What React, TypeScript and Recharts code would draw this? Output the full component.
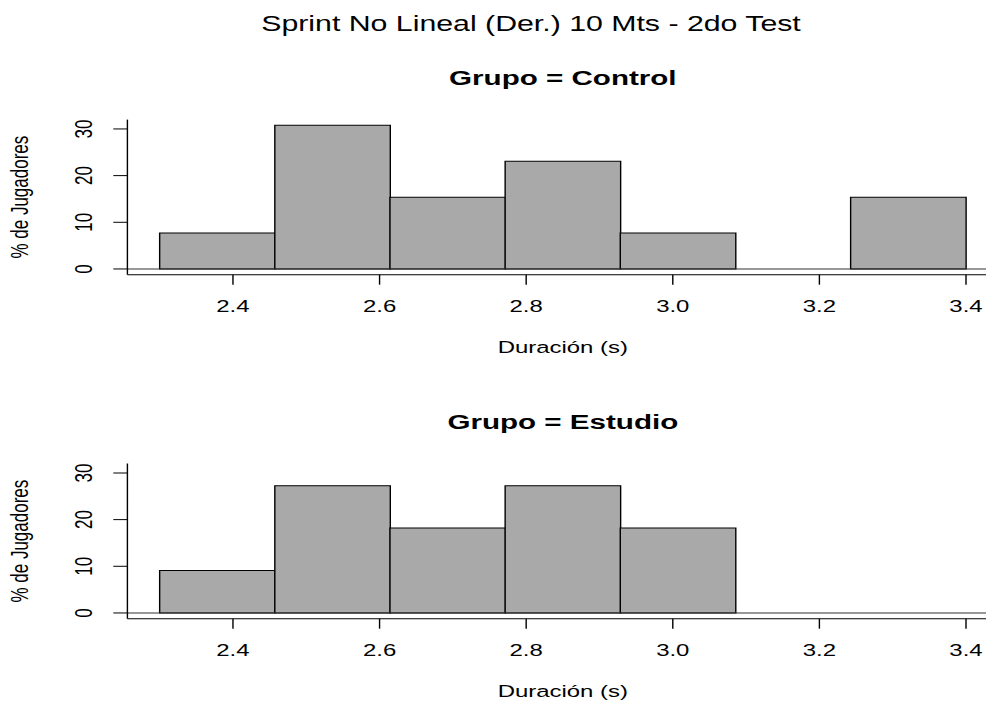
import { ComposedChart, Bar, XAxis, YAxis, ReferenceLine } from 'recharts';

// bin edges of the histogram (seconds)
const breaks = [2.3, 2.4571, 2.6143, 2.7714, 2.9286, 3.0857, 3.2429, 3.4];
// % of players per bin
const controlPct = [7.69, 30.77, 15.38, 23.08, 7.69, 0, 15.38];
const estudioPct = [9.09, 27.27, 18.18, 27.27, 18.18, 0, 0];

const xTicks = [2.4, 2.6, 2.8, 3.0, 3.2, 3.4];
const yTicks = [0, 10, 20, 30];
const yMaxData = 30.77;

// R style axis limits (4% padding)
const xPad = (breaks[breaks.length - 1] - breaks[0]) * 0.04;
const xLim = [breaks[0] - xPad, breaks[breaks.length - 1] + xPad];
const binW = breaks[1] - breaks[0];
const binLim = [(xLim[0] - breaks[0]) / binW, (xLim[1] - breaks[0]) / binW];
const yLim = [-yMaxData * 0.04, yMaxData * 1.04];

// the original picture is stretched horizontally
const BASE_W = 700;
const STRETCH = 986 / BASE_W;
const CHART_W = 720;
const CHART_H = 358;
const PLOT_LEFT = 90.45;
const PLOT_RIGHT = 708.7;
const PLOT_TOP = 119.6;
const PLOT_BOTTOM = 274.7;
const X_AXIS_H = 40;
const PANEL_SHIFT = 344;

const font = '"Liberation Sans", Arial, sans-serif';

const toRows = (pcts: number[]) =>
    pcts.map((pct, i) => ({ bin: i + 0.5, mid: (breaks[i] + breaks[i + 1]) / 2, pct }));

const YTick = (props: any) => {
    const { x, y, payload } = props;
    return (
        <text
            x={x}
            y={y}
            transform={`rotate(-90 ${x} ${y})`}
            textAnchor="middle"
            fontSize={17}
            fill="#000"
        >
            {payload.value}
        </text>
    );
};

function Panel({ pcts, top }: { pcts: number[]; top: number }) {
    return (
        <div style={{ position: 'absolute', left: 0, top }}>
            <ComposedChart
                width={CHART_W}
                height={CHART_H}
                data={toRows(pcts)}
                barCategoryGap={0}
                barGap={0}
                margin={{
                    top: PLOT_TOP,
                    right: CHART_W - PLOT_RIGHT,
                    bottom: CHART_H - PLOT_BOTTOM - X_AXIS_H,
                    left: 0,
                }}
            >
                <XAxis
                    xAxisId="bin"
                    dataKey="bin"
                    type="number"
                    domain={binLim}
                    allowDataOverflow
                    tickCount={8}
                    height={0}
                    hide
                />
                <XAxis
                    xAxisId="val"
                    dataKey="mid"
                    type="number"
                    domain={xLim}
                    allowDataOverflow
                    ticks={xTicks}
                    interval={0}
                    tickFormatter={(v: number) => v.toFixed(1)}
                    height={X_AXIS_H}
                    tickSize={10}
                    tickMargin={15}
                    stroke="#000"
                    tick={{ fill: '#000', fontSize: 17 }}
                />
                <XAxis
                    xAxisId="top"
                    dataKey="mid"
                    orientation="top"
                    type="number"
                    domain={xLim}
                    allowDataOverflow
                    height={0}
                    tick={false}
                    tickLine={false}
                    stroke="#000"
                />
                <YAxis
                    type="number"
                    domain={yLim}
                    allowDataOverflow
                    ticks={yTicks}
                    interval={0}
                    width={PLOT_LEFT}
                    tickSize={10}
                    tickMargin={15}
                    stroke="#000"
                    tick={<YTick />}
                />
                <ReferenceLine xAxisId="val" y={0} stroke="#333" strokeWidth={1} />
                <Bar
                    xAxisId="bin"
                    dataKey="pct"
                    fill="#a9a9a9"
                    stroke="#000"
                    strokeWidth={1}
                    isAnimationActive={false}
                />
            </ComposedChart>
        </div>
    );
}

export default function App() {
    const midX = (PLOT_LEFT + PLOT_RIGHT) / 2;
    const midY = (PLOT_TOP + PLOT_BOTTOM) / 2;
    return (
        <div
            style={{
                position: 'absolute',
                left: 0,
                top: 0,
                width: BASE_W,
                height: 702,
                overflow: 'hidden',
                background: '#fff',
                fontFamily: font,
                transform: `scaleX(${STRETCH})`,
                transformOrigin: '0 0',
            }}
        >
            <Panel pcts={controlPct} top={0} />
            <Panel pcts={estudioPct} top={PANEL_SHIFT} />
            <svg
                width={BASE_W}
                height={702}
                style={{ position: 'absolute', left: 0, top: 0, pointerEvents: 'none' }}
                fontFamily={font}
            >
                <text x={377} y={31} textAnchor="middle" fontSize={21.5} fill="#000">
                    Sprint No Lineal (Der.) 10 Mts - 2do Test
                </text>
                {['Control', 'Estudio'].map((g, i) => {
                    const dy = i * PANEL_SHIFT;
                    return (
                        <g key={g}>
                            <text x={midX} y={85 + dy} textAnchor="middle" fontSize={21} fontWeight="bold" fill="#000">
                                Grupo = {g}
                            </text>
                            <text x={midX} y={353 + dy} textAnchor="middle" fontSize={17} fill="#000">
                                Duración (s)
                            </text>
                            <text
                                x={20.2}
                                y={midY + dy}
                                transform={`rotate(-90 20.2 ${midY + dy})`}
                                textAnchor="middle"
                                fontSize={17}
                                fill="#000"
                            >
                                % de Jugadores
                            </text>
                        </g>
                    );
                })}
            </svg>
        </div>
    );
}
